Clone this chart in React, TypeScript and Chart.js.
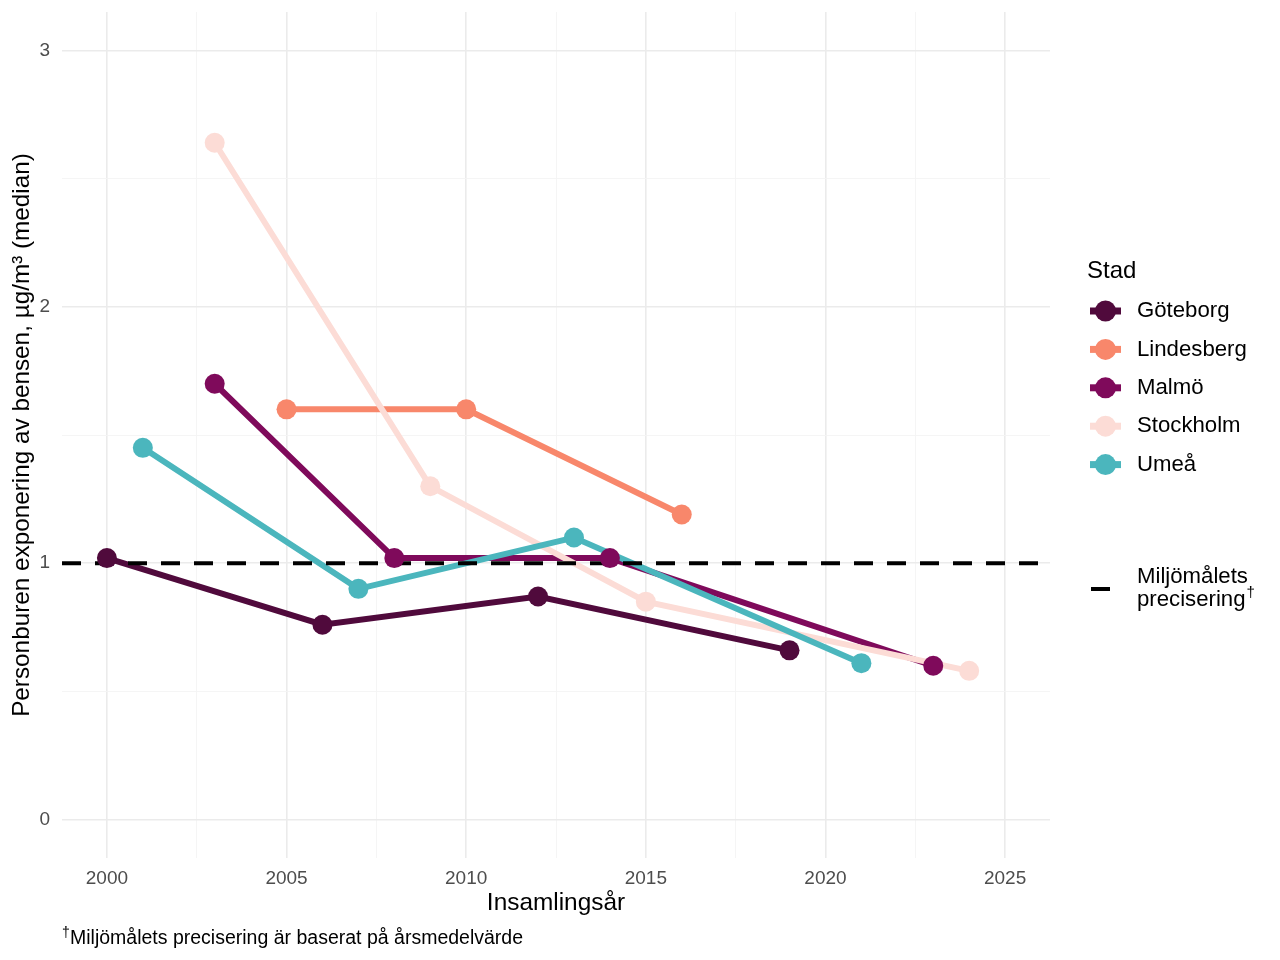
import React, { useEffect, useRef } from "react";
import { Chart, registerables } from "chart.js";

Chart.register(...registerables);

const cities = ["Göteborg", "Lindesberg", "Malmö", "Stockholm", "Umeå"];
const cityColors = ["#500a3c", "#f8876b", "#7f0a5b", "#fcdcd6", "#4bb6bd"];

const goteborgYears = [2000, 2006, 2012, 2019];
const goteborgValues = [1.02, 0.76, 0.87, 0.66];
const lindesbergYears = [2005, 2010, 2016];
const lindesbergValues = [1.6, 1.6, 1.19];
const malmoYears = [2003, 2008, 2014, 2023];
const malmoValues = [1.7, 1.02, 1.02, 0.6];
const stockholmYears = [2003, 2009, 2015, 2024];
const stockholmValues = [2.64, 1.3, 0.85, 0.58];
const umeaYears = [2001, 2007, 2013, 2021];
const umeaValues = [1.45, 0.9, 1.1, 0.61];

const seriesYears = [goteborgYears, lindesbergYears, malmoYears, stockholmYears, umeaYears];
const seriesValues = [goteborgValues, lindesbergValues, malmoValues, stockholmValues, umeaValues];

const targetValue = 1;
const xTickValues = [2000, 2002.5, 2005, 2007.5, 2010, 2012.5, 2015, 2017.5, 2020, 2022.5, 2025];
const yTickValues = [0, 0.5, 1, 1.5, 2, 2.5, 3];
const xMin = 1998.75;
const xMax = 2026.25;
const yMin = -0.15;
const yMax = 3.15;

const xTitle = "Insamlingsår";
const yTitle = "Personburen exponering av bensen, µg/m³ (median)";
const legendTitle = "Stad";
const targetLabelLines = ["Miljömålets", "precisering"];
const footnote = "Miljömålets precisering är baserat på årsmedelvärde";

const FONT = "'Liberation Sans', Arial, sans-serif";

export default function App() {
  const ref = useRef<HTMLCanvasElement | null>(null);

  useEffect(() => {
    if (!ref.current) return;
    const lineSets = cities.map((c, i) => ({
      label: c,
      data: seriesYears[i].map((y, j) => ({ x: y, y: seriesValues[i][j] })),
      borderColor: cityColors[i],
      backgroundColor: cityColors[i],
      borderWidth: 6,
      pointRadius: 0,
      showLine: true,
      order: 100 - i,
      borderCapStyle: "butt" as const,
    }));
    const pointSets = cities.map((c, i) => ({
      label: c + " pts",
      data: seriesYears[i].map((y, j) => ({ x: y, y: seriesValues[i][j] })),
      borderColor: cityColors[i],
      backgroundColor: cityColors[i],
      borderWidth: 0,
      pointRadius: 10,
      showLine: false,
      order: 50 - i,
    }));
    const targetSet = {
      label: "target",
      data: [
        { x: xMin, y: targetValue },
        { x: xMax, y: targetValue },
      ],
      borderColor: "#000000",
      borderWidth: 4,
      borderDash: [19, 14],
      pointRadius: 0,
      showLine: true,
      order: 70,
    };

    const overlay = {
      id: "overlay",
      afterDraw(chart: any) {
        const ctx = chart.ctx as CanvasRenderingContext2D;
        const area = chart.chartArea;
        ctx.save();
        ctx.fillStyle = "#000";
        // x title
        ctx.font = `24.4px ${FONT}`;
        ctx.textAlign = "center";
        ctx.textBaseline = "middle";
        ctx.fillText(xTitle, (area.left + area.right) / 2, 903);
        // y title
        ctx.save();
        ctx.translate(22, (area.top + area.bottom) / 2);
        ctx.rotate(-Math.PI / 2);
        ctx.font = `24.3px ${FONT}`;
        ctx.fillText(yTitle, 0, 0);
        ctx.restore();
        // footnote
        ctx.textAlign = "left";
        ctx.textBaseline = "alphabetic";
        ctx.font = `14px ${FONT}`;
        ctx.fillText("†", 62, 937);
        ctx.font = `19.5px ${FONT}`;
        ctx.fillText(footnote, 70, 944);
        // legend
        ctx.font = `24px ${FONT}`;
        ctx.textBaseline = "middle";
        ctx.fillText(legendTitle, 1087, 271);
        cities.forEach((c, i) => {
          const cy = 311 + i * 38.4;
          ctx.strokeStyle = cityColors[i];
          ctx.lineWidth = 7;
          ctx.beginPath();
          ctx.moveTo(1090, cy);
          ctx.lineTo(1121, cy);
          ctx.stroke();
          ctx.fillStyle = cityColors[i];
          ctx.beginPath();
          ctx.arc(1105.5, cy, 10.5, 0, Math.PI * 2);
          ctx.fill();
          ctx.fillStyle = "#000";
          ctx.font = `22.2px ${FONT}`;
          ctx.fillText(c, 1137, cy);
        });
        ctx.strokeStyle = "#000";
        ctx.lineWidth = 4;
        ctx.beginPath();
        ctx.moveTo(1091, 589);
        ctx.lineTo(1110, 589);
        ctx.stroke();
        ctx.font = `22.2px ${FONT}`;
        ctx.fillText(targetLabelLines[0], 1137, 577);
        ctx.fillText(targetLabelLines[1], 1137, 600);
        const w = ctx.measureText(targetLabelLines[1]).width;
        ctx.font = `15px ${FONT}`;
        ctx.fillText("†", 1137 + w + 1, 593);
        ctx.restore();
      },
    };

    const chart = new Chart(ref.current, {
      type: "scatter",
      data: { datasets: [...lineSets, targetSet, ...pointSets] as any },
      options: {
        animation: false,
        responsive: false,
        devicePixelRatio: 1,
        layout: { padding: { left: 0, right: 230, top: 12, bottom: 0 } },
        plugins: { legend: { display: false }, tooltip: { enabled: false } },
        scales: {
          x: {
            type: "linear",
            min: xMin,
            max: xMax,
            border: { display: false },
            afterBuildTicks: (axis: any) => {
              axis.ticks = xTickValues.map((v) => ({ value: v }));
            },
            afterFit: (axis: any) => {
              axis.height = 102;
              axis.paddingLeft = 0;
              axis.paddingRight = 0;
            },
            grid: {
              drawTicks: false,
              color: (c: any) => (c.tick && c.tick.value % 5 === 0 ? "#ebebeb" : "#f4f4f4"),
              lineWidth: (c: any) => (c.tick && c.tick.value % 5 === 0 ? 1.6 : 0.9),
            },
            ticks: {
              autoSkip: false,
              maxRotation: 0,
              padding: 9,
              color: "#4d4d4d",
              font: { family: FONT, size: 19 },
              callback: (v: any) => (Number(v) % 5 === 0 ? String(v) : ""),
            },
          },
          y: {
            type: "linear",
            min: yMin,
            max: yMax,
            border: { display: false },
            afterBuildTicks: (axis: any) => {
              axis.ticks = yTickValues.map((v) => ({ value: v }));
            },
            afterFit: (axis: any) => {
              axis.width = 62;
              axis.paddingTop = 0;
              axis.paddingBottom = 0;
            },
            grid: {
              drawTicks: false,
              color: (c: any) => (c.tick && c.tick.value % 1 === 0 ? "#ebebeb" : "#f4f4f4"),
              lineWidth: (c: any) => (c.tick && c.tick.value % 1 === 0 ? 1.6 : 0.9),
            },
            ticks: {
              autoSkip: false,
              padding: 12,
              color: "#4d4d4d",
              font: { family: FONT, size: 19 },
              callback: (v: any) => (Number(v) % 1 === 0 ? String(v) : ""),
            },
          },
        },
      },
      plugins: [overlay],
    });
    return () => chart.destroy();
  }, []);

  return (
    <div style={{ position: "fixed", left: 0, top: 0, width: 1280, height: 960, background: "#fff" }}>
      <canvas ref={ref} width={1280} height={960} style={{ width: 1280, height: 960 }} />
    </div>
  );
}
